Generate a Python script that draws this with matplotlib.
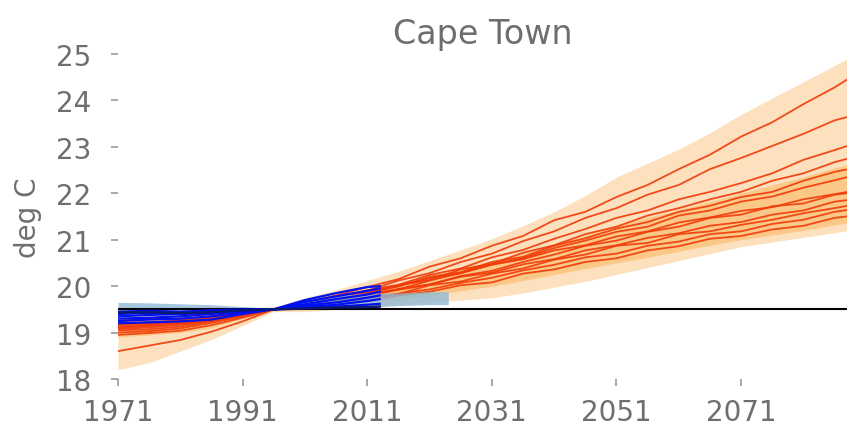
import numpy as np
import matplotlib
matplotlib.use("Agg")
import matplotlib.pyplot as plt

# model years (5-yearly) and observation years
years = [1971, 1976, 1981, 1986, 1991, 1996, 2001, 2006, 2011, 2016, 2021, 2026, 2031,
         2036, 2041, 2046, 2051, 2056, 2061, 2066, 2071, 2076, 2081, 2086, 2091]
obs_years = [1971, 1976, 1981, 1986, 1991, 1996, 2001, 2006, 2011, 2013]
hist_band_years = [1971, 1976, 1981, 1986, 1991, 1996, 2001, 2006, 2011, 2016, 2021, 2024]

# model runs, deg C
model_runs = [
    [19.25, 19.30, 19.28, 19.35, 19.45, 19.5, 19.65, 19.80, 19.98, 20.15, 20.42, 20.60, 20.87,
     21.08, 21.42, 21.60, 21.92, 22.18, 22.52, 22.83, 23.22, 23.53, 23.92, 24.28, 24.70],
    [19.20, 19.22, 19.26, 19.30, 19.42, 19.5, 19.60, 19.79, 19.90, 20.12, 20.28, 20.52, 20.70,
     20.97, 21.18, 21.47, 21.68, 21.97, 22.18, 22.52, 22.76, 23.02, 23.28, 23.57, 23.75],
    [19.10, 19.16, 19.20, 19.29, 19.40, 19.5, 19.62, 19.74, 19.91, 20.03, 20.24, 20.38, 20.62,
     20.78, 21.02, 21.23, 21.47, 21.63, 21.87, 22.03, 22.22, 22.43, 22.72, 22.93, 23.15],
    [19.05, 19.07, 19.13, 19.24, 19.38, 19.5, 19.57, 19.71, 19.84, 20.02, 20.13, 20.36, 20.48,
     20.72, 20.88, 21.12, 21.28, 21.52, 21.68, 21.87, 22.03, 22.27, 22.43, 22.67, 22.85],
    [19.00, 19.03, 19.09, 19.21, 19.35, 19.5, 19.61, 19.70, 19.84, 19.93, 20.12, 20.28, 20.47,
     20.60, 20.82, 20.98, 21.17, 21.28, 21.52, 21.63, 21.82, 21.93, 22.12, 22.28, 22.45],
    [18.95, 18.99, 19.04, 19.16, 19.32, 19.5, 19.54, 19.69, 19.79, 19.92, 20.03, 20.22, 20.33,
     20.52, 20.68, 20.87, 20.98, 21.17, 21.28, 21.47, 21.54, 21.72, 21.78, 21.97, 22.05],
    [18.60, 18.72, 18.84, 19.02, 19.24, 19.5, 19.58, 19.64, 19.77, 19.83, 20.02, 20.10, 20.27,
     20.38, 20.57, 20.68, 20.87, 20.93, 21.12, 21.18, 21.32, 21.43, 21.57, 21.68, 21.80],
    [19.15, 19.18, 19.22, 19.28, 19.41, 19.5, 19.54, 19.67, 19.71, 19.84, 19.93, 20.07, 20.18,
     20.34, 20.46, 20.62, 20.70, 20.87, 20.96, 21.12, 21.18, 21.34, 21.43, 21.60, 21.70],
    [19.22, 19.20, 19.27, 19.33, 19.43, 19.5, 19.52, 19.61, 19.68, 19.80, 19.88, 20.02, 20.08,
     20.27, 20.36, 20.52, 20.60, 20.77, 20.86, 21.02, 21.08, 21.22, 21.30, 21.47, 21.55],
    [19.12, 19.14, 19.19, 19.27, 19.39, 19.5, 19.61, 19.74, 19.89, 20.01, 20.17, 20.28, 20.46,
     20.58, 20.77, 20.88, 21.07, 21.18, 21.37, 21.48, 21.62, 21.70, 21.87, 21.98, 22.10],
    [19.18, 19.21, 19.24, 19.31, 19.44, 19.5, 19.55, 19.71, 19.79, 19.94, 20.04, 20.20, 20.29,
     20.47, 20.58, 20.77, 20.88, 21.04, 21.14, 21.30, 21.38, 21.54, 21.63, 21.82, 21.90],
    [19.08, 19.11, 19.17, 19.25, 19.37, 19.5, 19.63, 19.73, 19.86, 19.99, 20.20, 20.30, 20.52,
     20.63, 20.87, 21.03, 21.24, 21.38, 21.60, 21.73, 21.92, 22.03, 22.27, 22.46, 22.60],
]

# ensemble spread of the model runs
outer_low = [18.20, 18.35, 18.60, 18.85, 19.15, 19.45, 19.45, 19.50, 19.55, 19.60, 19.65, 19.70, 19.75,
             19.85, 19.98, 20.10, 20.25, 20.40, 20.55, 20.70, 20.85, 20.95, 21.05, 21.15, 21.25]
outer_high = [19.35, 19.38, 19.40, 19.42, 19.47, 19.55, 19.75, 19.92, 20.12, 20.32, 20.55, 20.78, 21.02,
              21.30, 21.60, 21.95, 22.35, 22.65, 22.95, 23.30, 23.70, 24.05, 24.40, 24.75, 25.10]
inner_low = [18.90, 18.95, 19.00, 19.10, 19.30, 19.47, 19.50, 19.58, 19.65, 19.72, 19.80, 19.90, 20.00,
             20.12, 20.25, 20.38, 20.50, 20.62, 20.75, 20.88, 21.00, 21.10, 21.20, 21.32, 21.42]
inner_high = [19.30, 19.32, 19.35, 19.40, 19.45, 19.53, 19.65, 19.78, 19.90, 20.05, 20.20, 20.40, 20.55,
              20.72, 20.90, 21.10, 21.30, 21.48, 21.65, 21.82, 22.00, 22.18, 22.35, 22.55, 22.70]

# observed / reanalysis series
obs_runs = [
    [19.45, 19.47, 19.45, 19.48, 19.50, 19.5, 19.70, 19.85, 19.98, 20.00],
    [19.40, 19.42, 19.43, 19.45, 19.48, 19.5, 19.66, 19.78, 19.90, 19.95],
    [19.35, 19.38, 19.40, 19.42, 19.47, 19.5, 19.61, 19.72, 19.82, 19.88],
    [19.30, 19.32, 19.35, 19.40, 19.45, 19.5, 19.58, 19.65, 19.75, 19.80],
    [19.25, 19.28, 19.30, 19.35, 19.43, 19.5, 19.55, 19.60, 19.68, 19.72],
    [19.20, 19.22, 19.24, 19.28, 19.40, 19.5, 19.53, 19.56, 19.60, 19.62],
]
obs_dark = [19.43, 19.44, 19.42, 19.44, 19.48, 19.5, 19.52, 19.54, 19.55, 19.56]
hist_low = [19.45, 19.46, 19.46, 19.47, 19.48, 19.50, 19.50, 19.52, 19.55, 19.58, 19.60, 19.60]
hist_high = [19.65, 19.64, 19.62, 19.60, 19.56, 19.52, 19.70, 19.80, 19.85, 19.85, 19.88, 19.88]

baseline = 19.5

grey = "#6e6e6e"
fig = plt.figure(figsize=(8.47, 4.31), dpi=100)
ax = fig.add_axes([118 / 847, 51 / 431, 729 / 847, 325 / 431])

ax.fill_between(years, outer_low, outer_high, color="#fdd9ad", alpha=0.8, lw=0, zorder=1)
ax.fill_between(years, inner_low, inner_high, color="#fbb55c", alpha=0.55, lw=0, zorder=1)
for run in model_runs:
    ax.plot(years, run, color="#f03a08", lw=1.3, alpha=0.9, zorder=2)

ax.fill_between(hist_band_years, hist_low, hist_high, color="#8fbad6", alpha=0.8, lw=0, zorder=3)
ax.axhline(baseline, color="black", lw=1.5, zorder=3)
for run in obs_runs:
    ax.plot(obs_years, run, color="#0010f0", lw=1.6, zorder=4)
ax.plot(obs_years, obs_dark, color="#0a1a70", lw=1.8, zorder=4)

ax.set_xlim(1971, 2088)
ax.set_ylim(18, 25)
ax.set_xticks([1971, 1991, 2011, 2031, 2051, 2071])
ax.set_yticks(range(18, 26))
for s in ax.spines.values():
    s.set_visible(False)
ax.tick_params(axis="both", direction="out", length=5, width=1.2, color="#999999",
               labelcolor=grey, labelsize=20)
ax.tick_params(axis="y", pad=14)
ax.tick_params(axis="x", pad=9)
ax.set_ylabel("deg C", fontsize=20, color=grey, labelpad=10)
ax.set_title("Cape Town", fontsize=24, color=grey, pad=8)

fig.savefig("out.png", dpi=100)
